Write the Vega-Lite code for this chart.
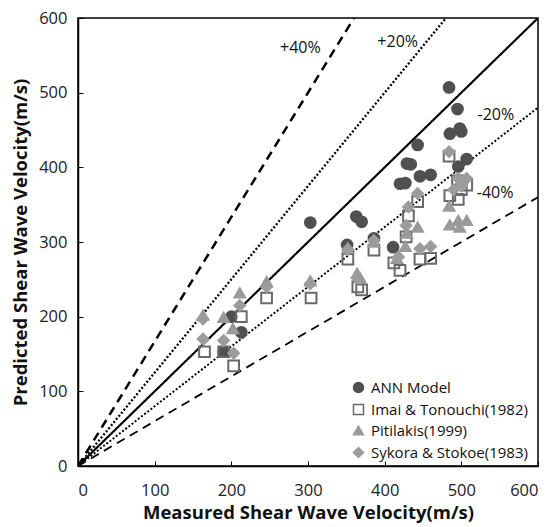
{
  "$schema": "https://vega.github.io/schema/vega-lite/v6.json",
  "width": 460,
  "height": 448,
  "autosize": {"type": "none"},
  "padding": {"left": 78, "top": 18, "right": 15, "bottom": 61},
  "background": "white",
  "config": {
    "view": {"stroke": "black", "strokeWidth": 1.5},
    "font": "Open Sans",
    "axis": {
      "domainColor": "black",
      "domainWidth": 1.5,
      "tickColor": "black",
      "tickSize": -5,
      "tickWidth": 1,
      "grid": false,
      "labelFontSize": 16.5,
      "labelColor": "#222",
      "labelFont": "Open Sans",
      "titleFont": "Open Sans",
      "titleFontSize": 18.5,
      "titleFontWeight": "bold",
      "titleColor": "#111"
    },
    "legend": {"labelLimit": 400}
  },
  "datasets": {
    "pts": [
      {"s": "ANN Model", "m": 200, "p": 200},
      {"s": "ANN Model", "m": 190, "p": 153},
      {"s": "ANN Model", "m": 213, "p": 179},
      {"s": "ANN Model", "m": 303, "p": 326},
      {"s": "ANN Model", "m": 351, "p": 296},
      {"s": "ANN Model", "m": 363, "p": 334},
      {"s": "ANN Model", "m": 370, "p": 327},
      {"s": "ANN Model", "m": 386, "p": 305},
      {"s": "ANN Model", "m": 411, "p": 293},
      {"s": "ANN Model", "m": 420, "p": 378},
      {"s": "ANN Model", "m": 427, "p": 379},
      {"s": "ANN Model", "m": 429, "p": 405},
      {"s": "ANN Model", "m": 434, "p": 404},
      {"s": "ANN Model", "m": 443, "p": 430},
      {"s": "ANN Model", "m": 446, "p": 388},
      {"s": "ANN Model", "m": 460, "p": 390},
      {"s": "ANN Model", "m": 484, "p": 507},
      {"s": "ANN Model", "m": 495, "p": 478},
      {"s": "ANN Model", "m": 485, "p": 445},
      {"s": "ANN Model", "m": 498, "p": 452},
      {"s": "ANN Model", "m": 500, "p": 448},
      {"s": "ANN Model", "m": 496, "p": 401},
      {"s": "ANN Model", "m": 507, "p": 411},
      {"s": "Imai & Tonouchi(1982)", "m": 165, "p": 153},
      {"s": "Imai & Tonouchi(1982)", "m": 190, "p": 153},
      {"s": "Imai & Tonouchi(1982)", "m": 203, "p": 134},
      {"s": "Imai & Tonouchi(1982)", "m": 213, "p": 200},
      {"s": "Imai & Tonouchi(1982)", "m": 246, "p": 225},
      {"s": "Imai & Tonouchi(1982)", "m": 304, "p": 225},
      {"s": "Imai & Tonouchi(1982)", "m": 352, "p": 277},
      {"s": "Imai & Tonouchi(1982)", "m": 365, "p": 240},
      {"s": "Imai & Tonouchi(1982)", "m": 370, "p": 236},
      {"s": "Imai & Tonouchi(1982)", "m": 386, "p": 289},
      {"s": "Imai & Tonouchi(1982)", "m": 412, "p": 272},
      {"s": "Imai & Tonouchi(1982)", "m": 420, "p": 262},
      {"s": "Imai & Tonouchi(1982)", "m": 428, "p": 307},
      {"s": "Imai & Tonouchi(1982)", "m": 431, "p": 335},
      {"s": "Imai & Tonouchi(1982)", "m": 443, "p": 354},
      {"s": "Imai & Tonouchi(1982)", "m": 446, "p": 277},
      {"s": "Imai & Tonouchi(1982)", "m": 460, "p": 278},
      {"s": "Imai & Tonouchi(1982)", "m": 484, "p": 415},
      {"s": "Imai & Tonouchi(1982)", "m": 485, "p": 362},
      {"s": "Imai & Tonouchi(1982)", "m": 496, "p": 357},
      {"s": "Imai & Tonouchi(1982)", "m": 500, "p": 370},
      {"s": "Imai & Tonouchi(1982)", "m": 495, "p": 382},
      {"s": "Imai & Tonouchi(1982)", "m": 507, "p": 376},
      {"s": "Pitilakis(1999)", "m": 163, "p": 202},
      {"s": "Pitilakis(1999)", "m": 190, "p": 199},
      {"s": "Pitilakis(1999)", "m": 202, "p": 184},
      {"s": "Pitilakis(1999)", "m": 211, "p": 232},
      {"s": "Pitilakis(1999)", "m": 246, "p": 247},
      {"s": "Pitilakis(1999)", "m": 303, "p": 248},
      {"s": "Pitilakis(1999)", "m": 352, "p": 292},
      {"s": "Pitilakis(1999)", "m": 364, "p": 258},
      {"s": "Pitilakis(1999)", "m": 368, "p": 252},
      {"s": "Pitilakis(1999)", "m": 386, "p": 300},
      {"s": "Pitilakis(1999)", "m": 416, "p": 278},
      {"s": "Pitilakis(1999)", "m": 427, "p": 294},
      {"s": "Pitilakis(1999)", "m": 429, "p": 312},
      {"s": "Pitilakis(1999)", "m": 443, "p": 320},
      {"s": "Pitilakis(1999)", "m": 484, "p": 348},
      {"s": "Pitilakis(1999)", "m": 485, "p": 323},
      {"s": "Pitilakis(1999)", "m": 496, "p": 329},
      {"s": "Pitilakis(1999)", "m": 507, "p": 329},
      {"s": "Pitilakis(1999)", "m": 498, "p": 320},
      {"s": "Sykora & Stokoe(1983)", "m": 163, "p": 170},
      {"s": "Sykora & Stokoe(1983)", "m": 163, "p": 197},
      {"s": "Sykora & Stokoe(1983)", "m": 190, "p": 168},
      {"s": "Sykora & Stokoe(1983)", "m": 203, "p": 151},
      {"s": "Sykora & Stokoe(1983)", "m": 211, "p": 215},
      {"s": "Sykora & Stokoe(1983)", "m": 246, "p": 240},
      {"s": "Sykora & Stokoe(1983)", "m": 303, "p": 244},
      {"s": "Sykora & Stokoe(1983)", "m": 352, "p": 290},
      {"s": "Sykora & Stokoe(1983)", "m": 364, "p": 252},
      {"s": "Sykora & Stokoe(1983)", "m": 386, "p": 302},
      {"s": "Sykora & Stokoe(1983)", "m": 418, "p": 280},
      {"s": "Sykora & Stokoe(1983)", "m": 428, "p": 322},
      {"s": "Sykora & Stokoe(1983)", "m": 431, "p": 347},
      {"s": "Sykora & Stokoe(1983)", "m": 443, "p": 365},
      {"s": "Sykora & Stokoe(1983)", "m": 446, "p": 291},
      {"s": "Sykora & Stokoe(1983)", "m": 460, "p": 294},
      {"s": "Sykora & Stokoe(1983)", "m": 484, "p": 421},
      {"s": "Sykora & Stokoe(1983)", "m": 496, "p": 385},
      {"s": "Sykora & Stokoe(1983)", "m": 507, "p": 385},
      {"s": "Sykora & Stokoe(1983)", "m": 500, "p": 375},
      {"s": "Sykora & Stokoe(1983)", "m": 490, "p": 370}
    ],
    "lines": [
      {"l": "p40", "m": 0, "p": 0},
      {"l": "p40", "m": 360, "p": 600},
      {"l": "p20", "m": 0, "p": 0},
      {"l": "p20", "m": 480, "p": 600},
      {"l": "eq", "m": 0, "p": 0},
      {"l": "eq", "m": 600, "p": 600},
      {"l": "m20", "m": 0, "p": 0},
      {"l": "m20", "m": 600, "p": 480},
      {"l": "m40", "m": 0, "p": 0},
      {"l": "m40", "m": 600, "p": 360}
    ],
    "labels": [
      {"t": "+40%", "m": 290, "p": 560},
      {"t": "+20%", "m": 417, "p": 568},
      {"t": "-20%", "m": 545, "p": 470},
      {"t": "-40%", "m": 544, "p": 366}
    ]
  },
  "layer": [
    {
      "data": {"name": "lines"},
      "mark": {"type": "line", "clip": true},
      "encoding": {
        "x": {"field": "m", "type": "quantitative", "scale": {"domain": [0, 600], "nice": false},
              "axis": {"values": [0, 100, 200, 300, 400, 500, 600], "title": "Measured Shear Wave Velocity(m/s)", "titlePadding": 5, "labelPadding": 21}},
        "y": {"field": "p", "type": "quantitative", "scale": {"domain": [0, 600], "nice": false},
              "axis": {"values": [0, 100, 200, 300, 400, 500, 600], "title": "Predicted Shear Wave Velocity(m/s)", "titlePadding": 8, "labelPadding": 16}},
        "detail": {"field": "l"},
        "strokeDash": {"field": "l", "type": "nominal", "legend": null,
          "scale": {"domain": ["p40", "p20", "eq", "m20", "m40"], "range": [[9, 6], [2, 2], [1, 0], [2, 2], [9, 6]]}},
        "strokeWidth": {"field": "l", "type": "nominal", "legend": null,
          "scale": {"domain": ["p40", "p20", "eq", "m20", "m40"], "range": [2.5, 1.8, 2.2, 1.8, 2.5]}},
        "color": {"value": "black"}
      }
    },
    {
      "data": {"name": "labels"},
      "mark": {"type": "text", "fontSize": 16, "font": "Open Sans", "color": "#111"},
      "encoding": {
        "x": {"field": "m", "type": "quantitative"},
        "y": {"field": "p", "type": "quantitative"},
        "text": {"field": "t"}
      }
    },
    {
      "data": {"name": "pts"},
      "mark": {"type": "point", "opacity": 1, "size": 115},
      "encoding": {
        "x": {"field": "m", "type": "quantitative"},
        "y": {"field": "p", "type": "quantitative"},
        "shape": {"field": "s", "type": "nominal",
          "scale": {"domain": ["ANN Model", "Imai & Tonouchi(1982)", "Pitilakis(1999)", "Sykora & Stokoe(1983)"], "range": ["circle", "square", "triangle-up", "diamond"]},
          "legend": {"title": null, "orient": "none", "legendX": 273, "legendY": 362, "labelFontSize": 15, "labelFont": "Open Sans", "labelColor": "#111", "labelLimit": 400, "symbolSize": 100, "rowPadding": 5, "labelOffset": 5, "padding": 0}},
        "fill": {"field": "s", "type": "nominal",
          "scale": {"domain": ["ANN Model", "Imai & Tonouchi(1982)", "Pitilakis(1999)", "Sykora & Stokoe(1983)"], "range": ["#505050", "transparent", "#9a9a9a", "#9c9c9c"]},
          "legend": {"title": null, "orient": "none", "legendX": 273, "legendY": 362, "labelFontSize": 15, "labelFont": "Open Sans", "labelColor": "#111", "labelLimit": 400, "symbolSize": 100, "rowPadding": 5, "labelOffset": 5, "padding": 0}},
        "stroke": {"field": "s", "type": "nominal",
          "scale": {"domain": ["ANN Model", "Imai & Tonouchi(1982)", "Pitilakis(1999)", "Sykora & Stokoe(1983)"], "range": ["#505050", "#6a6a6a", "#9a9a9a", "#9c9c9c"]},
          "legend": {"title": null, "orient": "none", "legendX": 273, "legendY": 362, "labelFontSize": 15, "labelFont": "Open Sans", "labelColor": "#111", "labelLimit": 400, "symbolSize": 100, "rowPadding": 5, "labelOffset": 5, "padding": 0}},
        "strokeWidth": {"value": 2}
      }
    }
  ],
  "resolve": {"scale": {"strokeWidth": "independent"}}
}
